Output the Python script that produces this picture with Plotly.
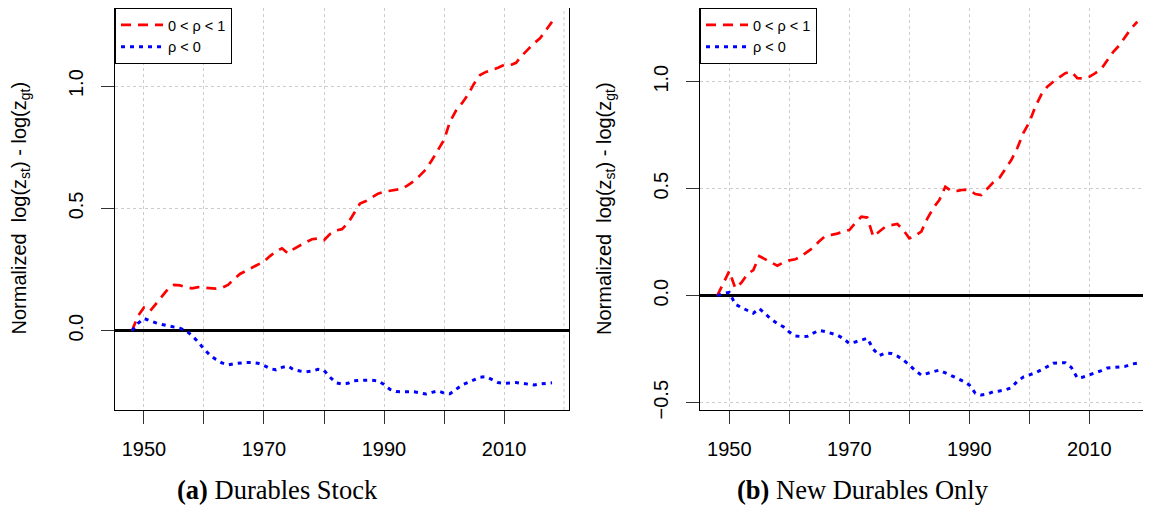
import plotly.graph_objects as go

years = list(range(1948, 2019))

stock_pos = [0.00, 0.06, 0.095, 0.08, 0.11, 0.14, 0.17, 0.187, 0.185, 0.178,
             0.173, 0.178, 0.175, 0.172, 0.172, 0.175, 0.187, 0.21, 0.232, 0.245,
             0.258, 0.27, 0.283, 0.305, 0.325, 0.337, 0.316, 0.335, 0.35, 0.362,
             0.374, 0.377, 0.37, 0.395, 0.41, 0.415, 0.44, 0.48, 0.52, 0.53,
             0.545, 0.56, 0.568, 0.573, 0.577, 0.58, 0.595, 0.612, 0.635, 0.66,
             0.698, 0.74, 0.78, 0.855, 0.9, 0.93, 0.965, 1.01, 1.045, 1.058,
             1.066, 1.075, 1.086, 1.085, 1.095, 1.125, 1.15, 1.175, 1.195, 1.23,
             1.263]
stock_neg = [0.0, 0.03, 0.05, 0.04, 0.032, 0.025, 0.02, 0.015, 0.01, 0.0,
             -0.02, -0.045, -0.075, -0.1, -0.118, -0.132, -0.14, -0.135, -0.131, -0.13,
             -0.13, -0.133, -0.142, -0.155, -0.16, -0.15, -0.145, -0.16, -0.165, -0.168,
             -0.165, -0.158, -0.162, -0.19, -0.213, -0.218, -0.215, -0.205, -0.203, -0.202,
             -0.203, -0.205, -0.22, -0.24, -0.249, -0.25, -0.249, -0.25, -0.254, -0.259,
             -0.252, -0.246, -0.255, -0.258, -0.24, -0.222, -0.212, -0.2, -0.19, -0.188,
             -0.2, -0.212, -0.215, -0.213, -0.212, -0.215, -0.22, -0.222, -0.218, -0.215,
             -0.213]
new_pos = [0.0, 0.06, 0.115, 0.035, 0.06, 0.1, 0.12, 0.185, 0.17, 0.155,
           0.14, 0.155, 0.165, 0.17, 0.185, 0.205, 0.225, 0.255, 0.279, 0.284,
           0.29, 0.3, 0.307, 0.34, 0.369, 0.365, 0.276, 0.3, 0.322, 0.33,
           0.335, 0.307, 0.268, 0.28, 0.3, 0.36, 0.41, 0.447, 0.509, 0.49,
           0.49, 0.495, 0.494, 0.475, 0.47, 0.5, 0.53, 0.55, 0.59, 0.634,
           0.69, 0.76, 0.81, 0.883, 0.94, 0.977, 1.0, 1.02, 1.04, 1.047,
           1.016, 1.015, 1.023, 1.04, 1.06, 1.1, 1.14, 1.17, 1.21, 1.25,
           1.28]
new_neg = [0.0, 0.01, 0.015, -0.04, -0.055, -0.07, -0.082, -0.06, -0.085, -0.11,
           -0.13, -0.145, -0.17, -0.188, -0.191, -0.19, -0.175, -0.162, -0.168, -0.175,
           -0.184, -0.2, -0.223, -0.216, -0.208, -0.199, -0.25, -0.28, -0.268, -0.27,
           -0.282, -0.3, -0.324, -0.35, -0.371, -0.362, -0.355, -0.348, -0.36, -0.372,
           -0.386, -0.4, -0.417, -0.456, -0.464, -0.46, -0.449, -0.445, -0.44, -0.43,
           -0.4, -0.38, -0.371, -0.36, -0.347, -0.33, -0.316, -0.314, -0.313, -0.335,
           -0.385, -0.38, -0.371, -0.36, -0.35, -0.338, -0.335, -0.335, -0.33, -0.32,
           -0.315]

legend_labels = ["0 < \u03c1 < 1", "\u03c1 < 0"]
x_major = [1950, 1970, 1990, 2010]
x_minor = [1960, 1980, 2000]
x_grid_extra = 2020
y_ticks_a = [0.0, 0.5, 1.0]
y_ticks_b = [-0.5, 0.0, 0.5, 1.0]
captions = ["<b>(a)</b> Durables Stock", "<b>(b)</b> New Durables Only"]
ytitle = "Normalized  log(z<sub>st</sub>) - log(z<sub>gt</sub>)"

# page body has an 8px margin: size the figure to fit the window
OFF = 8
W, H = 1151 - OFF, 508 - OFF


def px(x):
    return (x - OFF) / W


def py(y):
    return min(1.0, (H - (y - OFF)) / H)


SANS = "Liberation Sans, Arial, sans-serif"
RED = "#FF0000"
BLUE = "#0000FF"
GRID = "#cccccc"

fig = go.Figure()
panels = [("x", "y", "legend", stock_pos, stock_neg),
          ("x2", "y2", "legend2", new_pos, new_neg)]
for xa, ya, lg, pos, neg in panels:
    fig.add_trace(go.Scatter(x=years, y=pos, mode="lines", name=legend_labels[0],
                             xaxis=xa, yaxis=ya, legend=lg,
                             line=dict(color=RED, width=2.7, dash="10px,7px")))
    fig.add_trace(go.Scatter(x=years, y=neg, mode="lines", name=legend_labels[1],
                             xaxis=xa, yaxis=ya, legend=lg,
                             line=dict(color=BLUE, width=3, dash="4px,5px")))

ydom = [py(410), 1.0]
common_x = dict(tickvals=x_major, ticktext=[str(v) for v in x_major], ticks="outside",
                ticklen=13, tickwidth=1, tickcolor="#333333", showline=True,
                linecolor="black", linewidth=1, showgrid=True, gridcolor=GRID,
                griddash="3px,3px", gridwidth=1, zeroline=False, automargin=False,
                tickfont=dict(family=SANS, size=20, color="black"),
                minor=dict(tickvals=x_minor, showgrid=True, gridcolor=GRID,
                           griddash="3px,3px", ticks="outside", ticklen=13,
                           tickwidth=1, tickcolor="#333333"),
                ticklabelstandoff=8)
common_y = dict(ticks="outside", ticklen=13,
                tickwidth=1, tickcolor="#333333", showline=True, linecolor="black",
                linewidth=1, showgrid=True, gridcolor=GRID, griddash="3px,3px",
                gridwidth=1, zeroline=True, zerolinecolor="black", zerolinewidth=2.6,
                tickangle=-90, automargin=False, tickformat=".1f",
                tickfont=dict(family=SANS, size=20, color="black"),
                ticklabelstandoff=10)

legend_common = dict(yanchor="top", xanchor="left", bordercolor="black", borderwidth=1,
                     bgcolor="white", font=dict(family=SANS, size=14.5, color="black"),
                     itemwidth=42, tracegroupgap=0)

fig.update_layout(
    width=W, height=H, margin=dict(l=0, r=0, t=0, b=0),
    paper_bgcolor="white", plot_bgcolor="white",
    xaxis=dict(domain=[px(115), px(569)], range=[1945.17, 2020.83], anchor="y",
               mirror=True, **common_x),
    yaxis=dict(domain=ydom, range=[-0.3242, 1.3193], anchor="x", mirror=True,
               tickvals=y_ticks_a, **common_y),
    xaxis2=dict(domain=[px(700), 1.0], range=[1945.117, 2020.28], anchor="y2",
                mirror=True, **common_x),
    yaxis2=dict(domain=ydom, range=[-0.5341, 1.3444], anchor="x2",
                tickvals=y_ticks_b, **common_y),
    legend=dict(x=px(115), y=1.0, **legend_common),
    legend2=dict(x=px(700), y=1.0, **legend_common),
    showlegend=True,
)

for xr, yr in (("x", "y"), ("x2", "y2")):
    fig.add_shape(type="line", xref=xr, yref=yr + " domain", x0=x_grid_extra,
                  x1=x_grid_extra, y0=0, y1=1, layer="below",
                  line=dict(color=GRID, width=1, dash="3px,3px"))

for xpix in (20, 605.5):
    fig.add_annotation(text=ytitle, x=px(xpix), y=py(208.5), xref="paper", yref="paper",
                       textangle=-90, showarrow=False, xanchor="center", yanchor="middle",
                       font=dict(family=SANS, size=20, color="black"))

for xpix, cap in zip((277, 863), captions):
    fig.add_annotation(text=cap, x=px(xpix), y=py(490), xref="paper", yref="paper",
                       showarrow=False, xanchor="center", yanchor="middle",
                       font=dict(family="Liberation Serif, Times New Roman, serif", size=26.5,
                                 color="black"))

fig.write_html("out.html")
